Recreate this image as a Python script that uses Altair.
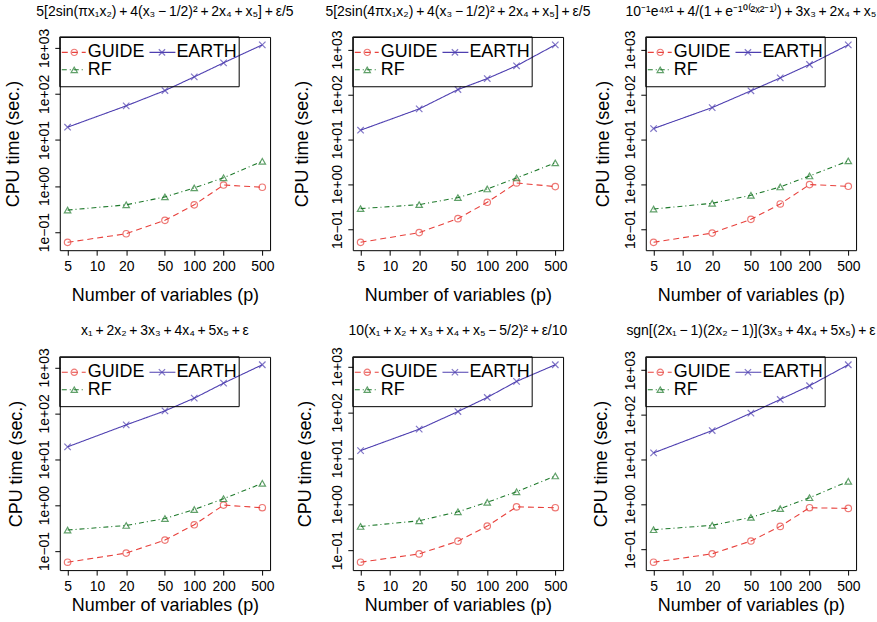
import altair as alt
import numpy as np
import pandas as pd

# ---------------- data ----------------
p_values = [5, 20, 50, 100, 200, 500]
methods = ["GUIDE", "RF", "EARTH"]

panel_titles = [
    "5[2sin(πx₁x₂)\u2009+\u20094(x₃\u2009−\u20091/2)²\u2009+\u20092x₄\u2009+\u2009x₅]\u2009+\u2009ε/5",
    "5[2sin(4πx₁x₂)\u2009+\u20094(x₃\u2009−\u20091/2)²\u2009+\u20092x₄\u2009+\u2009x₅]\u2009+\u2009ε/5",
    "10⁻¹e⁴ˣ¹\u2009+\u20094/(1\u2009+\u2009e⁻¹⁰⁽²ˣ²⁻¹⁾)\u2009+\u20093x₃\u2009+\u20092x₄\u2009+\u2009x₅",
    "x₁\u2009+\u20092x₂\u2009+\u20093x₃\u2009+\u20094x₄\u2009+\u20095x₅\u2009+\u2009ε",
    "10(x₁\u2009+\u2009x₂\u2009+\u2009x₃\u2009+\u2009x₄\u2009+\u2009x₅\u2009−\u20095/2)²\u2009+\u2009ε/10",
    "sgn[(2x₁\u2009−\u20091)(2x₂\u2009−\u20091)](3x₃\u2009+\u20094x₄\u2009+\u20095x₅)\u2009+\u2009ε",
]

guide_times = [
    [0.060, 0.092, 0.18, 0.39, 1.05, 0.94],
    [0.0505, 0.083, 0.17, 0.394, 1.06, 0.88],
    [0.0505, 0.081, 0.164, 0.361, 0.975, 0.895],
    [0.057, 0.090, 0.173, 0.373, 1.00, 0.877],
    [0.0547, 0.083, 0.157, 0.334, 0.875, 0.84],
    [0.050, 0.077, 0.149, 0.317, 0.83, 0.80],
]
rf_times = [
    [0.30, 0.39, 0.58, 0.91, 1.51, 3.44],
    [0.284, 0.349, 0.50, 0.78, 1.37, 2.97],
    [0.279, 0.373, 0.563, 0.865, 1.52, 3.29],
    [0.286, 0.36, 0.51, 0.80, 1.38, 2.98],
    [0.328, 0.436, 0.686, 1.10, 1.87, 4.12],
    [0.267, 0.334, 0.504, 0.79, 1.39, 3.23],
]
earth_times = [
    [18.9, 55, 118, 234, 472, 1161],
    [15.9, 47.5, 128, 225, 433, 1271],
    [17.3, 50.8, 120, 233, 463, 1271],
    [18.6, 56, 113, 214, 454, 1145],
    [14.7, 43, 104, 211, 471, 1087],
    [14.0, 44.3, 109, 220, 446, 1318],
]

x_ticks = [5, 10, 20, 50, 100, 200, 500]
y_ticks = [0.1, 1, 10, 100, 1000]

# ---------------- style ----------------
FONT = "Liberation Sans"
W, H = 211, 214
colors = ["#E8413C", "#1F7A2C", "#4E3FB0"]
dashes = [[6, 4], [5, 3, 1, 3], [1, 0]]
X_PATH = "M-1,-1L1,1M1,-1L-1,1"
shapes = ["circle", "triangle-up", X_PATH]
ytitle_off = [46.5, 50, 42.5, 43.5, 47.5, 44.5]
xtitle_off = [45, 45, 45, 35.5, 35.5, 35.5]

y_label_expr = ("datum.value < 0.5 ? '1e\u221201' : datum.value < 5 ? '1e+00' : "
                "datum.value < 50 ? '1e+01' : datum.value < 500 ? '1e+02' : '1e+03'")


def log_range(lo, hi):
    a, b = np.log10(lo), np.log10(hi)
    r = b - a
    return [float(10 ** (a - 0.04 * r)), float(10 ** (b + 0.04 * r))]


one_row = pd.DataFrame({"k": [0]})


def legend_layers():
    layers = [
        alt.Chart(one_row).mark_rect(fillOpacity=0, stroke="black", strokeWidth=1).encode(
            x=alt.value(0), x2=alt.value(180), y=alt.value(0), y2=alt.value(50))
    ]
    # name, index, seg x0, seg x1, point x, text x, row y
    entries = [("GUIDE", 0, 2, 26, 14.5, 28, 15.5),
               ("EARTH", 2, 90, 116, 102.5, 117, 15.5),
               ("RF", 1, 2, 26, 14.5, 28, 33)]
    for name, k, s0, s1, px, tx, ry in entries:
        layers.append(alt.Chart(one_row).mark_rule(
            color=colors[k], strokeDash=dashes[k], strokeWidth=1.1).encode(
            x=alt.value(s0), x2=alt.value(s1), y=alt.value(ry)))
        layers.append(alt.Chart(one_row).mark_point(
            shape=shapes[k], color=colors[k], filled=False, size=40, strokeWidth=1.2).encode(
            x=alt.value(px), y=alt.value(ry)))
        layers.append(alt.Chart(one_row).mark_text(
            align="left", baseline="middle", fontSize=18, font=FONT, color="black").encode(
            x=alt.value(tx), y=alt.value(ry), text=alt.value(name)))
    return layers


def panel(i):
    df = pd.DataFrame({
        "p": p_values * 3,
        "time": guide_times[i] + rf_times[i] + earth_times[i],
        "method": ["GUIDE"] * 6 + ["RF"] * 6 + ["EARTH"] * 6,
    })
    all_vals = guide_times[i] + rf_times[i] + earth_times[i]
    ydom = log_range(min(all_vals), max(all_vals))
    xdom = log_range(min(p_values), max(p_values))

    x = alt.X("p:Q", scale=alt.Scale(type="log", domain=xdom, nice=False),
              axis=alt.Axis(values=x_ticks, format="d", title="Number of variables (p)",
                            titleY=xtitle_off[i], titleX=W / 2, titleBaseline="middle",
                            titleAlign="center"))
    y = alt.Y("time:Q", scale=alt.Scale(type="log", domain=ydom, nice=False),
              axis=alt.Axis(values=y_ticks, labelExpr=y_label_expr, title="CPU time (sec.)",
                            labelAngle=270, labelAlign="center", labelBaseline="middle",
                            labelPadding=10,
                            titleX=-ytitle_off[i], titleY=H / 2, titleAngle=270,
                            titleBaseline="middle", titleAlign="center"))
    color = alt.Color("method:N", scale=alt.Scale(domain=methods, range=colors), legend=None)
    dash = alt.StrokeDash("method:N", scale=alt.Scale(domain=methods, range=dashes), legend=None)
    shape = alt.Shape("method:N", scale=alt.Scale(domain=methods, range=shapes), legend=None)

    lines = alt.Chart(df).mark_line(strokeWidth=1.1).encode(x=x, y=y, color=color, strokeDash=dash)
    points = alt.Chart(df).mark_point(filled=False, size=42, strokeWidth=1.2).encode(
        x=x, y=y, color=color, shape=shape)
    title = alt.Chart(one_row).mark_text(
        align="center", baseline="alphabetic", fontSize=14, font=FONT, color="black").encode(
        x=alt.value(W / 2), y=alt.value(-21.5), text=alt.value(panel_titles[i]))

    return alt.layer(lines, points, title, *legend_layers()).properties(
        width=W, height=H,
    ).resolve_scale(color="independent", strokeDash="independent", shape="independent")


chart = alt.concat(
    *[panel(i) for i in range(6)], columns=3,
    spacing={"row": 107, "column": 83}, bounds="flush",
).properties(
    padding={"left": 4, "top": 3, "right": 0, "bottom": 0},
    background="white",
).configure_view(
    stroke="black", strokeWidth=1
).configure_axis(
    grid=False, domain=False, ticks=True, tickSize=5, tickColor="black", tickWidth=1,
    labelFont=FONT, labelFontSize=14, labelColor="black", labelFlush=False,
    labelOverlap=False, labelPadding=4,
    titleFont=FONT, titleFontSize=18, titleFontWeight="normal", titleColor="black",
)

chart.save("out.html", embed_options={"renderer": "svg", "actions": False})
